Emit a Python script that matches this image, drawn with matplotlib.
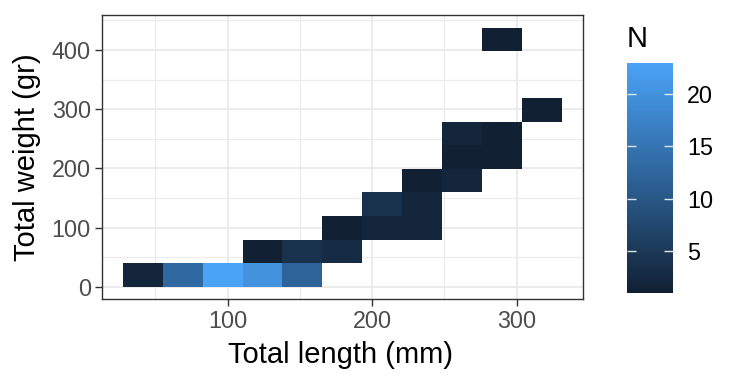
import matplotlib
matplotlib.use("Agg")
import matplotlib.pyplot as plt
from matplotlib.colors import LinearSegmentedColormap, Normalize
from matplotlib.cm import ScalarMappable

plt.rcParams['font.family'] = ['Liberation Sans', 'DejaVu Sans']

# bin size of the 2d histogram (length mm, weight gr)
bin_w = 27.6
bin_h = 39.8

# bin centres and counts
length_mid = [41.3, 68.9, 96.5, 124.1, 151.7,
              124.1, 151.7, 179.3,
              179.3, 206.9, 234.5,
              206.9, 234.5,
              234.5, 262.1,
              262.1, 289.7,
              262.1, 289.7,
              317.3,
              289.7]
weight_mid = [19.9] * 5 + [59.7] * 3 + [99.5] * 3 + [139.3] * 2 + \
             [179.1] * 2 + [218.9] * 2 + [258.7] * 2 + [298.5] + [417.9]
counts = [2, 13, 23, 20, 12,
          1, 4, 3,
          1, 2, 2,
          4, 2,
          1, 2,
          1, 1,
          2, 1,
          1,
          1]

x_ticks = [100, 200, 300]
y_ticks = [0, 100, 200, 300, 400]
cbar_ticks = [5, 10, 15, 20]

cmap = LinearSegmentedColormap.from_list(
    "gg", [(0, "#112033"), (0.5, "#2D6398"), (1, "#4AA3F7")])
norm = Normalize(vmin=min(counts), vmax=max(counts))

fig = plt.figure(figsize=(7.43, 3.84), dpi=100)
ax = fig.add_axes([0.1373, 0.2221, 0.647, 0.7396])

ax.bar(length_mid, [bin_h] * len(counts), width=bin_w,
       bottom=[w - bin_h / 2 for w in weight_mid],
       color=[cmap(norm(c)) for c in counts], linewidth=0, zorder=2)

ax.set_xlim(13, 345.7)
ax.set_ylim(-20.3, 459.6)
ax.set_xticks(x_ticks)
ax.set_yticks(y_ticks)
ax.set_xticks([50, 150, 250], minor=True)
ax.set_yticks([50, 150, 250, 350, 450], minor=True)
ax.grid(which='major', color='#EBEBEB', lw=1.4, zorder=0)
ax.grid(which='minor', color='#EBEBEB', lw=0.8, zorder=0)
ax.set_axisbelow(True)
ax.tick_params(which='minor', length=0)
ax.tick_params(which='major', length=5, width=1.0, color='#333333',
               labelsize=16.8, labelcolor='#4D4D4D', pad=3)
for s in ax.spines.values():
    s.set_color('#333333')
    s.set_linewidth(1.0)

fig.text(341 / 743, 1 - 363.3 / 384, "Total length (mm)", fontsize=21,
         ha='center', va='baseline')
fig.text(27 / 743, 1 - 156.7 / 384, "Total weight (gr)", fontsize=21,
         ha='center', va='center', rotation=90)

cax = fig.add_axes([0.8435, 0.237, 0.0623, 0.5997])
sm = ScalarMappable(norm=norm, cmap=cmap)
cb = fig.colorbar(sm, cax=cax, ticks=cbar_ticks)
cb.outline.set_visible(False)
cax.tick_params(direction='in', color='#DDE3EA', length=6.5, width=1.0,
                left=True, right=True, labelsize=16.8, pad=10)
fig.text(627 / 743, 1 - 47 / 384, "N", fontsize=21, ha='left', va='baseline')

fig.savefig("out.png", dpi=100)
